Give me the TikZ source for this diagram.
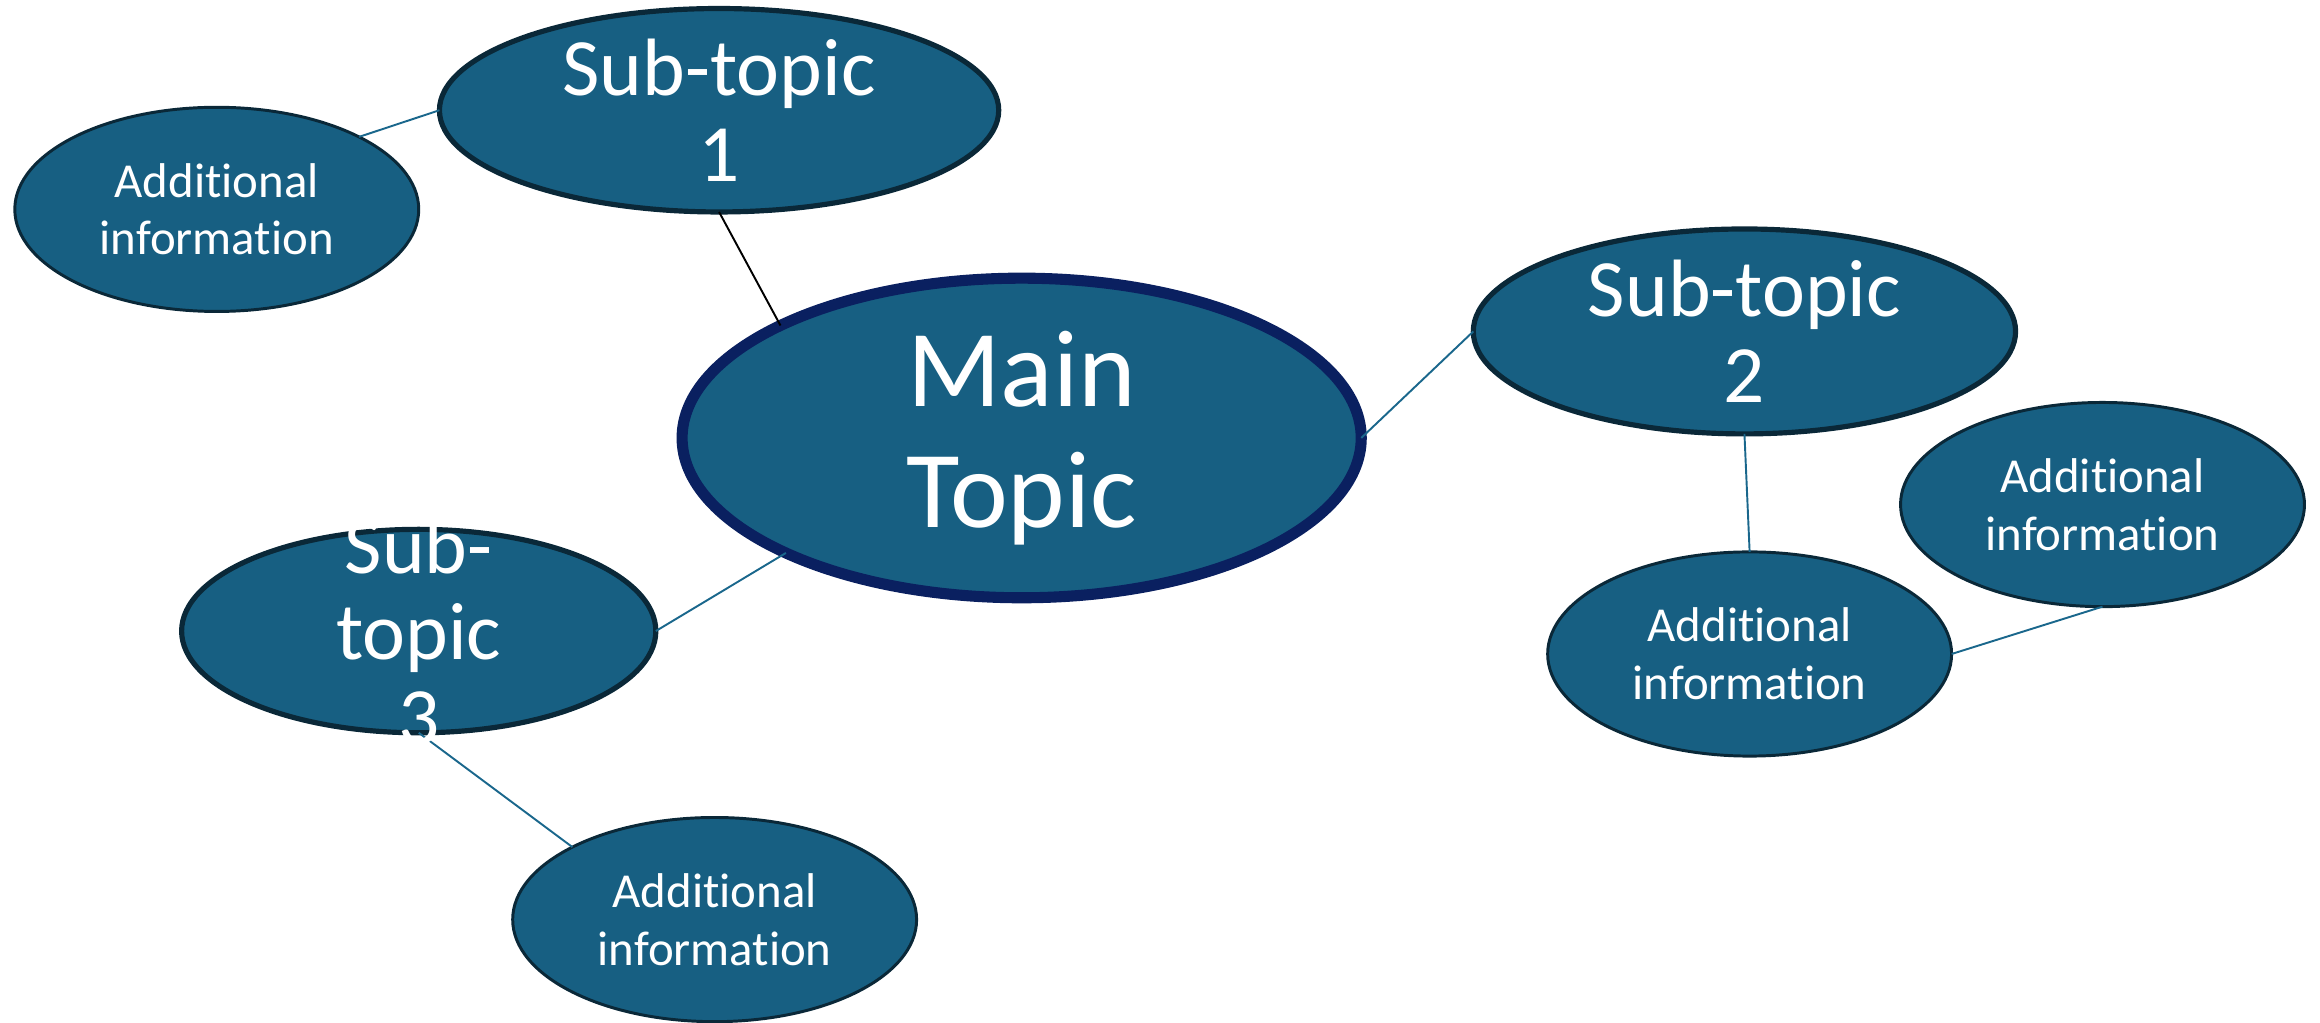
\documentclass[tikz,border=0pt]{standalone}
\usepackage{fontspec}
\setmainfont{Carlito}[Ligatures={NoCommon}]
\usetikzlibrary{shapes.geometric}
\definecolor{nodefill}{HTML}{175F82}
\definecolor{subedge}{HTML}{0A2838}
\definecolor{mainedge}{HTML}{0A2060}
\definecolor{linkcol}{HTML}{1A678C}
\tikzset{
  blob/.style={ellipse, draw, fill=nodefill, inner sep=0pt, outer sep=0pt},
  mainblob/.style={blob, draw=mainedge, line width=7.5pt, minimum width=459pt, minimum height=216pt},
  subblob/.style={blob, draw=subedge, line width=3.5pt},
  addblob/.style={blob, draw=subedge, line width=2pt, minimum width=273pt, minimum height=138pt},
  maintext/.style={text=white, align=center, inner sep=0pt, font=\fontsize{74}{82}\selectfont},
  subtext/.style={text=white, align=center, inner sep=0pt, font=\fontsize{55}{58}\selectfont},
  addtext/.style={text=white, align=center, inner sep=0pt, font=\fontsize{33}{39}\selectfont},
  link/.style={draw=linkcol, line width=1.3pt},
  blacklink/.style={draw=black, line width=1.3pt}
}
\begin{document}
\begin{tikzpicture}[x=1pt,y=-1pt]
\useasboundingbox (0,0) rectangle (1568,691.4);
% shapes
\node[mainblob] (main) at (690.5,296) {};
\node[subblob, minimum width=378pt, minimum height=137.5pt] (s1) at (486,74.5) {};
\node[subblob, minimum width=366.5pt, minimum height=138.5pt] (s2) at (1179,224) {};
\node[subblob, minimum width=320.5pt, minimum height=137.5pt] (s3) at (283,426.5) {};
\node[addblob] (a1) at (146.5,141.5) {};
\node[addblob] (a2a) at (1182.5,442) {};
\node[addblob] (a2b) at (1421,341) {};
\node[addblob] (a3) at (483,621.5) {};
% connectors
\draw[link] (s1.west) -- (a1.27);
\draw[blacklink] (s1.south) -- (main.155);
\draw[link] (main.east) -- (s2.west);
\draw[link] (s2.south) -- (a2a.north);
\draw[link] (a2a.east) -- (a2b.south);
\draw[link] (main.206) -- (s3.east);
\draw[link] (s3.south) -- (a3.153);
% texts
\node[maintext] (tmain) at (main.center) {Main\\Topic};
\node[subtext] (ts1) at (s1.center) {Sub-topic\\1};
\node[subtext] (ts2) at (s2.center) {Sub-topic\\2};
\node[subtext] (ts3) at (s3.center) {Sub-\\topic\\3};
\node[addtext] (ta1) at (a1.center) {Additional\\information};
\node[addtext] (ta2a) at (a2a.center) {Additional\\information};
\node[addtext] (ta2b) at (a2b.center) {Additional\\information};
\node[addtext] (ta3) at (a3.center) {Additional\\information};
\end{tikzpicture}
\end{document}
